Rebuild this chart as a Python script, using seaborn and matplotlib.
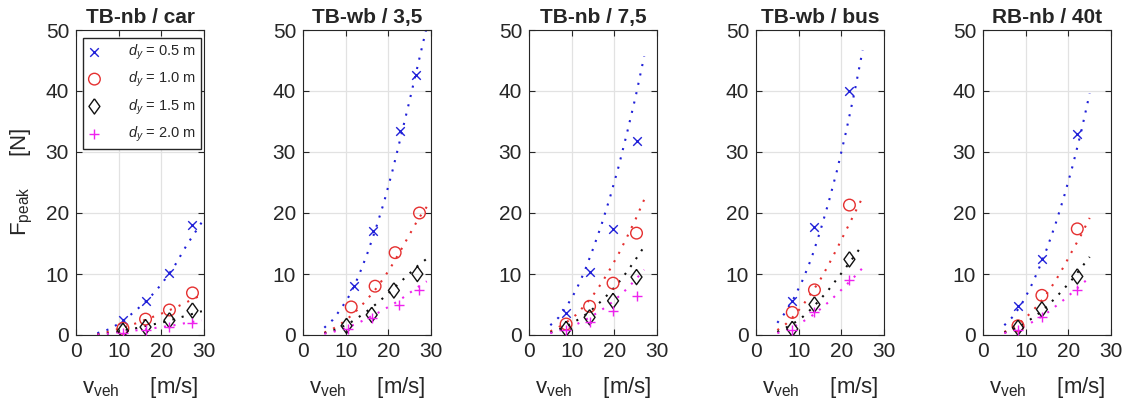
import numpy as np
import pandas as pd
import matplotlib
matplotlib.use('Agg')
import matplotlib.pyplot as plt
import seaborn as sns

# ── data ─────────────────────────────────────────────────────
titles = ['TB-nb / car', 'TB-wb / 3,5', 'TB-nb / 7,5', 'TB-wb / bus', 'RB-nb / 40t']
dy_values = ['0.5', '1.0', '1.5', '2.0']

# measured peaks (rows: d_y = 0.5, 1.0, 1.5, 2.0 m)
car_v = [11.0, 16.3, 21.9, 27.3]
car_F = [[2.5, 5.6, 10.2, 18.0],
         [1.1, 2.6, 4.1, 6.9],
         [0.7, 1.3, 2.4, 4.0],
         [0.3, 0.8, 1.3, 2.0]]

tb35_v = [[11.9, 16.4, 22.8, 26.4],
          [11.3, 16.9, 21.6, 27.3],
          [10.2, 16.1, 21.3, 26.8],
          [10.6, 16.2, 22.4, 27.1]]
tb35_F = [[8.0, 17.0, 33.5, 42.7],
          [4.6, 8.0, 13.5, 20.0],
          [1.5, 3.3, 7.3, 10.0],
          [1.0, 2.8, 5.0, 7.3]]

tb75_v = [8.7, 14.2, 19.7, 25.2]
tb75_F = [[3.6, 10.3, 17.3, 31.8],
          [1.8, 4.7, 8.5, 16.7],
          [1.0, 2.9, 5.6, 9.5],
          [0.9, 2.1, 4.0, 6.4]]

bus_v = [8.5, 13.7, 21.9]
bus_F = [[5.6, 17.7, 40.0],
         [3.7, 7.4, 21.3],
         [1.0, 5.0, 12.4],
         [0.9, 3.8, 9.0]]

t40_v = [8.2, 13.8, 22.1]
t40_F = [[4.7, 12.4, 32.9],
         [1.5, 6.5, 17.4],
         [1.2, 4.2, 9.6],
         [0.9, 3.0, 7.4]]

# dotted fit curves
car_fit_v = [5, 8, 11, 14, 17, 20, 23, 26, 29.5]
car_fit_F = [[0.3, 1.0, 2.3, 4.0, 5.9, 8.3, 11.2, 14.8, 18.5],
             [0.1, 0.6, 1.2, 1.9, 2.7, 3.5, 4.4, 5.4, 6.6],
             [0.05, 0.3, 0.7, 1.1, 1.6, 2.0, 2.6, 3.2, 3.9],
             [0.05, 0.25, 0.5, 0.75, 1.0, 1.3, 1.6, 2.0, 2.4]]

tb35_fit_v = [5, 7, 9, 11, 13, 15, 17, 19, 21, 23, 25, 27, 29]
tb35_fit_F = [[1.2, 2.5, 4.4, 6.6, 9.6, 13.2, 17.3, 21.8, 27.0, 32.7, 38.5, 44.5, 50.5],
              [0.4, 1.0, 1.9, 3.0, 4.3, 5.8, 7.5, 9.4, 11.6, 14.0, 16.5, 19.0, 21.0],
              [0.3, 0.7, 1.3, 2.0, 2.9, 3.9, 5.0, 6.2, 7.5, 8.8, 10.1, 11.4, 12.5],
              [0.2, 0.5, 0.9, 1.4, 2.0, 2.7, 3.4, 4.2, 5.0, 5.9, 6.9, 7.9, 8.8]]

tb75_fit_v = [5, 7, 9, 11, 13, 15, 17, 19, 21, 23, 25, 27]
tb75_fit_F = [[1.6, 2.9, 4.9, 7.3, 10.4, 14.1, 18.1, 22.6, 27.6, 33.2, 39.1, 45.7],
              [0.6, 1.3, 2.2, 3.3, 4.8, 6.5, 8.5, 10.8, 13.3, 16.1, 19.0, 22.2],
              [0.4, 0.9, 1.5, 2.3, 3.2, 4.3, 5.6, 7.0, 8.6, 10.4, 12.4, 14.5],
              [0.3, 0.7, 1.1, 1.7, 2.4, 3.2, 4.1, 5.1, 6.3, 7.6, 9.1, 10.7]]

bus_fit_v = [5, 7, 9, 11, 13, 15, 17, 19, 21, 23, 25]
bus_fit_F = [[2.0, 3.8, 6.2, 9.1, 12.6, 16.9, 21.7, 27.0, 33.0, 39.5, 46.7],
             [0.8, 1.8, 3.2, 4.9, 6.9, 9.0, 11.5, 14.2, 17.0, 19.8, 22.6],
             [0.5, 1.2, 2.0, 3.0, 4.3, 5.8, 7.4, 9.2, 11.0, 12.9, 14.8],
             [0.3, 0.8, 1.4, 2.2, 3.1, 4.2, 5.4, 6.7, 8.1, 9.5, 11.0]]

t40_fit_v = [5, 7, 9, 11, 13, 15, 17, 19, 21, 23, 25]
t40_fit_F = [[1.6, 3.0, 5.0, 7.6, 10.7, 14.2, 18.2, 22.7, 27.7, 33.3, 39.6],
             [0.5, 1.2, 2.2, 3.5, 5.0, 6.8, 8.9, 11.3, 13.9, 16.4, 19.2],
             [0.4, 0.9, 1.6, 2.5, 3.5, 4.7, 6.1, 7.6, 9.2, 11.0, 12.8],
             [0.3, 0.7, 1.2, 1.9, 2.7, 3.6, 4.7, 5.8, 7.0, 8.2, 9.5]]

panels = [(car_v, car_F, car_fit_v, car_fit_F),
          (tb35_v, tb35_F, tb35_fit_v, tb35_fit_F),
          (tb75_v, tb75_F, tb75_fit_v, tb75_fit_F),
          (bus_v, bus_F, bus_fit_v, bus_fit_F),
          (t40_v, t40_F, t40_fit_v, t40_fit_F)]

# ── style ────────────────────────────────────────────────────
sns.set_style('ticks')
plt.rcParams['font.family'] = ['Liberation Sans', 'DejaVu Sans']
plt.rcParams['mathtext.fontset'] = 'custom'
plt.rcParams['mathtext.rm'] = 'Liberation Sans'
plt.rcParams['mathtext.it'] = 'Liberation Sans:italic'

# matlab-like diamond (a bit taller than wide)
diamond = [(0, 1), (0.72, 0), (0, -1), (-0.72, 0), (0, 1)]

colors = ['#2020d8', '#e53030', '#111111', '#ee22ee']
markers = ['x', 'o', diamond, '+']
sizes = [38, 70, 120, 55]
filled = [False, True, True, False]
dotted = (0, (1, 3.6))

fig = plt.figure(figsize=(11.24, 4.04), dpi=100)
lefts = [76, 303, 529, 756, 983]

for k, (v, F, fv, fF) in enumerate(panels):
    ax = fig.add_axes([lefts[k] / 1124, 69 / 404, 128 / 1124, 305 / 404])
    v = np.asarray(v, dtype=float)
    for i in range(4):
        vx = v[i] if v.ndim == 2 else v
        sns.lineplot(x=fv, y=fF[i], ax=ax, color=colors[i], linestyle=dotted,
                     linewidth=1.5, zorder=2)
        kw = dict(marker=markers[i], s=sizes[i], linewidth=1.0, zorder=3)
        if filled[i]:
            kw.update(facecolor='none', edgecolor=colors[i])
        else:
            kw.update(color=colors[i])
        lab = r'$d_y$ = %s m' % dy_values[i] if k == 0 else None
        sns.scatterplot(x=vx, y=F[i], ax=ax, label=lab, legend=False, **kw)

    ax.set_xlim(0, 30)
    ax.set_ylim(0, 50)
    ax.set_xticks([0, 10, 20, 30])
    ax.set_yticks([0, 10, 20, 30, 40, 50])
    ax.grid(True, color='#e2e2e2', linewidth=0.9)
    ax.set_axisbelow(True)
    ax.tick_params(direction='in', top=True, right=True, length=4, width=0.8,
                   labelsize=15, colors='#262626', pad=5)
    for sp in ax.spines.values():
        sp.set_color('#262626')
        sp.set_linewidth(0.8)
    ax.set_title(titles[k], fontsize=15, fontweight='bold', pad=5)
    ax.set_xlabel(r'v$_{\mathrm{veh}}$     [m/s]', fontsize=16, color='#262626', labelpad=10)
    ax.set_ylabel('')

    if k == 0:
        ax.set_ylabel(r'F$_{\mathrm{peak}}$     [N]', fontsize=16, color='#262626', labelpad=8)
        ax.legend(loc='upper left', bbox_to_anchor=(0.055, 0.975), borderaxespad=0,
                  fontsize=10.5, handlelength=0.86, handletextpad=1.9, borderpad=0.35,
                  labelspacing=0.55, fancybox=False, framealpha=1,
                  edgecolor='#262626', scatterpoints=1)

plt.savefig('out.png', dpi=100)
plt.close()
